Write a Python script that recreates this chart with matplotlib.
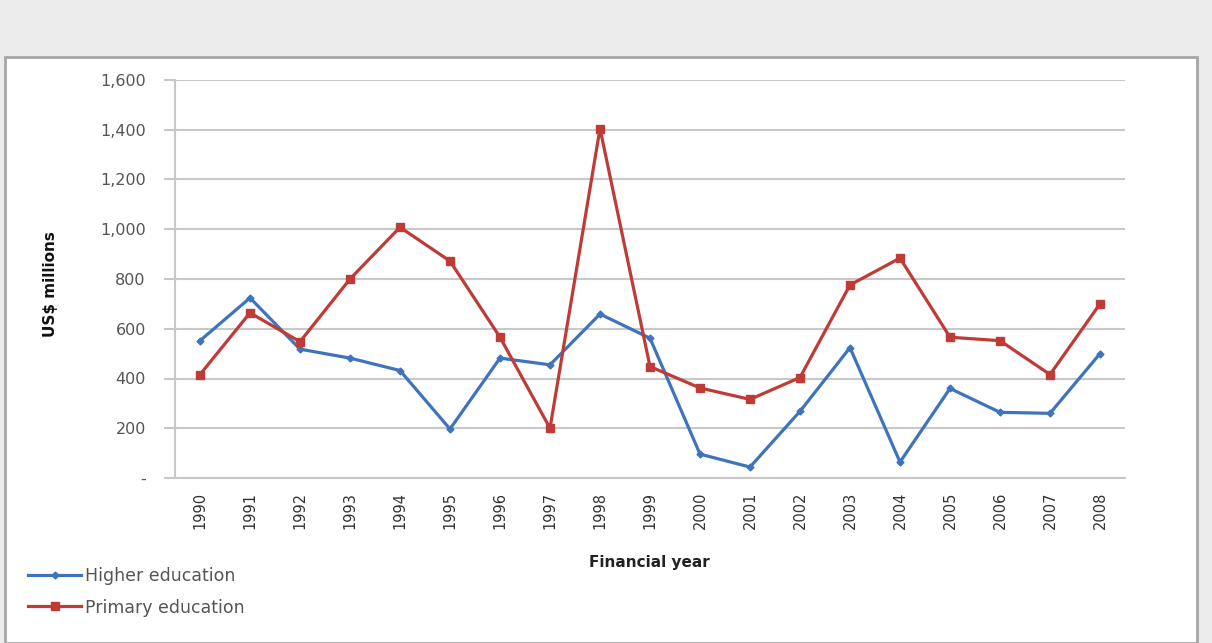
import matplotlib
matplotlib.use("Agg")
import matplotlib.pyplot as plt
from matplotlib.patches import Rectangle
from matplotlib.lines import Line2D
from matplotlib.ticker import FuncFormatter

years = ["1990", "1991", "1992", "1993", "1994", "1995", "1996", "1997", "1998", "1999",
         "2000", "2001", "2002", "2003", "2004", "2005", "2006", "2007", "2008"]
higher_education = [552, 724, 518, 482, 432, 197, 482, 455, 659, 562,
                    96, 44, 268, 524, 64, 360, 264, 260, 500]
primary_education = [416, 664, 548, 800, 1008, 872, 566, 200, 1405, 448,
                     362, 316, 404, 776, 884, 566, 552, 416, 700]
y_ticks = [0, 200, 400, 600, 800, 1000, 1200, 1400, 1600]

W, H = 1212, 643
fig = plt.figure(figsize=(W / 100, H / 100), dpi=100)
fig.patch.set_facecolor("#ececec")

# white chart panel with grey border
panel = Rectangle((5 / W, 0), (1197 - 5) / W, (643 - 57) / H,
                  transform=fig.transFigure, facecolor="white",
                  edgecolor="#a6a6a6", linewidth=2, zorder=-5)
fig.patches.append(panel)

ax = fig.add_axes([175 / W, (H - 478) / H, (1125 - 175) / W, (478 - 80) / H], zorder=2)
ax.patch.set_alpha(0)
x = list(range(len(years)))
blue = "#3f74bd"
red = "#be3b37"
ax.plot(x, higher_education, color=blue, lw=2.3, marker="D", ms=3.5,
        markeredgecolor=blue, markerfacecolor=blue, zorder=3)
ax.plot(x, primary_education, color=red, lw=2.3, marker="s", ms=6,
        markeredgecolor=red, markerfacecolor=red, zorder=4)

ax.set_xlim(-0.5, len(years) - 0.5)
ax.set_ylim(0, 1600)
ax.set_yticks(y_ticks)
ax.yaxis.set_major_formatter(FuncFormatter(lambda v, p: "-" if v == 0 else f"{int(v):,}"))
ax.set_xticks(x)
ax.set_xticklabels(years, rotation=90, fontsize=10.5, family="DejaVu Sans",
                   color="#333333")
for lbl in ax.get_yticklabels():
    lbl.set_fontsize(11.5)
    lbl.set_family("DejaVu Sans")
    lbl.set_color("#555555")
ax.grid(axis="y", color="#c8c8c8", lw=1.5)
ax.set_axisbelow(True)
for s in ["top", "right"]:
    ax.spines[s].set_visible(False)
ax.spines["left"].set_color("#c8c8c8")
ax.spines["left"].set_linewidth(1.5)
ax.spines["bottom"].set_color("#c8c8c8")
ax.spines["bottom"].set_linewidth(1.5)
ax.tick_params(axis="y", length=8, width=1.5, color="#c8c8c8", pad=13)
ax.tick_params(axis="x", length=0, pad=10)

fig.text(50 / W, 1 - 284 / H, "US$ millions", rotation=90, ha="center", va="center",
         fontsize=11, fontweight="bold", family="DejaVu Sans", color="#111111")
fig.text(649 / W, 1 - 562 / H, "Financial year", ha="center", va="center",
         fontsize=11, fontweight="bold", family="DejaVu Sans", color="#222222")

handles = [Line2D([], [], color=blue, lw=2.3, marker="D", ms=3.5),
           Line2D([], [], color=red, lw=2.3, marker="s", ms=6)]
leg = fig.legend(handles, ["Higher education", "Primary education"],
                 loc="upper left", bbox_to_anchor=(12 / W, 1 - 551 / H),
                 frameon=False, handlelength=3.1, handletextpad=0.2,
                 labelspacing=0.8, prop={"family": "DejaVu Sans", "size": 12.5})
for t in leg.get_texts():
    t.set_color("#555555")

fig.savefig("out.png", dpi=100, facecolor=fig.get_facecolor())
